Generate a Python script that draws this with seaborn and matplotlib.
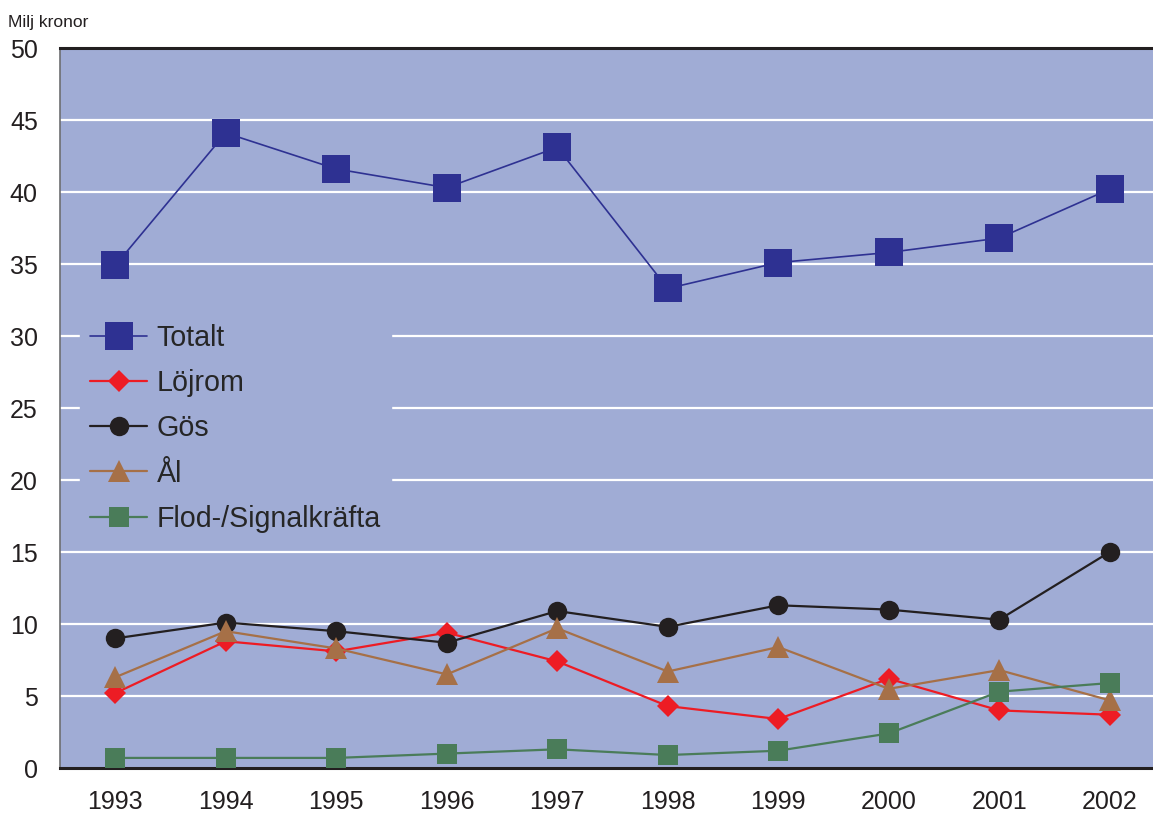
import matplotlib
matplotlib.use("Agg")
import matplotlib.pyplot as plt
import seaborn as sns
import pandas as pd

years = [1993, 1994, 1995, 1996, 1997, 1998, 1999, 2000, 2001, 2002]
totalt = [34.9, 44.1, 41.6, 40.3, 43.1, 33.3, 35.1, 35.8, 36.8, 40.2]
lojrom = [5.2, 8.8, 8.1, 9.4, 7.4, 4.3, 3.4, 6.2, 4.0, 3.7]
gos = [9.0, 10.1, 9.5, 8.7, 10.9, 9.8, 11.3, 11.0, 10.3, 15.0]
al = [6.3, 9.5, 8.3, 6.5, 9.7, 6.7, 8.4, 5.5, 6.8, 4.7]
flod = [0.7, 0.7, 0.7, 1.0, 1.3, 0.9, 1.2, 2.4, 5.3, 5.9]
yticks = [0, 5, 10, 15, 20, 25, 30, 35, 40, 45, 50]

sns.set_theme(style="white")
plt.rcParams['font.family'] = ['Liberation Sans', 'DejaVu Sans']

bg = '#a0acd5'
fig = plt.figure(figsize=(11.53, 8.14), dpi=100)
ax = fig.add_axes([60/1153, 46/814, 1105/1153, 720/814])
ax.set_facecolor(bg)

series = [
    ("Löjrom", lojrom, '#ed1c24', 'D', 11.5, 1.6, 3),
    ("Gös", gos, '#231f20', 'o', 14, 1.6, 4),
    ("Ål", al, '#a67047', '^', 16, 1.6, 5),
    ("Flod-/Signalkräfta", flod, '#4a7c59', 's', 14, 1.6, 6),
    ("Totalt", totalt, '#2e3192', 's', 19.5, 1.2, 7),
]
handles = {}
for name, vals, col, mk, ms, lw, z in series:
    df = pd.DataFrame({"year": years, "value": vals})
    sns.lineplot(data=df, x="year", y="value", ax=ax, color=col, marker=mk,
                 markersize=ms, markeredgewidth=0, linewidth=lw, zorder=z,
                 label=name)
    handles[name] = ax.get_lines()[-1]

ax.set_xlim(1992.5, 2002.5)
ax.set_ylim(0, 50)
ax.set_yticks(yticks)
ax.set_xticks(years)
ax.set_xticklabels([str(y) for y in years])
ax.set_xlabel("")
ax.set_ylabel("")
ax.tick_params(axis='both', length=0, labelsize=18, colors='#231f20')
ax.tick_params(axis='x', pad=16)
ax.tick_params(axis='y', pad=16)
ax.grid(False)
for v in yticks[1:-1]:
    ax.axhline(v, color='white', linewidth=1.6, zorder=1)

for s in ['top', 'bottom']:
    ax.spines[s].set_color('#231f20')
    ax.spines[s].set_linewidth(2.2)
ax.spines['left'].set_color('#6d6e71')
ax.spines['left'].set_linewidth(1.2)
ax.spines['right'].set_visible(False)

order = ["Totalt", "Löjrom", "Gös", "Ål", "Flod-/Signalkräfta"]
leg = ax.legend([handles[n] for n in order], order, loc='upper left',
                bbox_to_anchor=(80/1153, (814-314)/814),
                bbox_transform=fig.transFigure,
                frameon=True, fancybox=False, fontsize=20.6, handlelength=2.0,
                handletextpad=0.33, labelspacing=0.6, borderpad=0.35,
                borderaxespad=0)
leg.get_frame().set_facecolor(bg)
leg.get_frame().set_edgecolor(bg)
leg.get_frame().set_alpha(1)
leg.set_zorder(2)

fig.text(8/1153, 1 - 22/814, "Milj kronor", fontsize=12.5, color='#231f20',
         va='center', ha='left')

fig.savefig("out.png", dpi=100)
